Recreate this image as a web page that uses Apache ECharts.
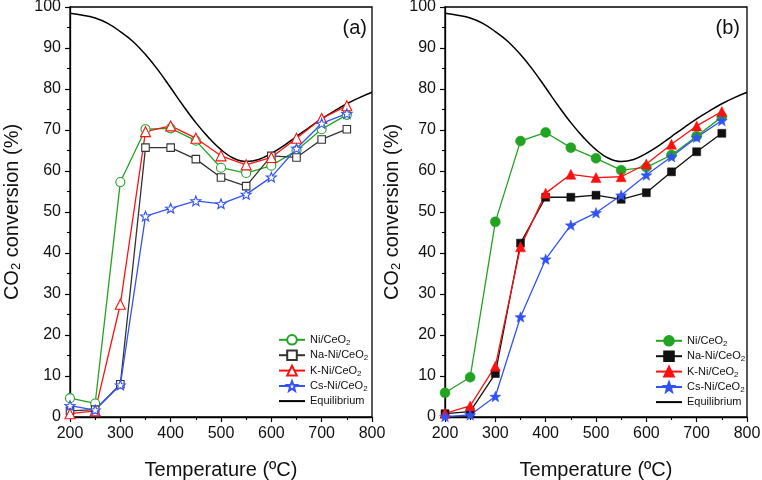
<!DOCTYPE html>
<html><head><meta charset="utf-8">
<script src="https://cdn.jsdelivr.net/npm/echarts@6/dist/echarts.min.js"></script>
<style>html,body{margin:0;padding:0;background:#fff}#c{width:762px;height:480px}</style>
</head><body><div id="c"></div>
<script>
// ---- data ----
const temps = [200, 250, 300, 350, 400, 450, 500, 550, 600, 650, 700, 750];
const seriesLabels = ['Ni/CeO2', 'Na-Ni/CeO2', 'K-Ni/CeO2', 'Cs-Ni/CeO2', 'Equilibrium'];
// panel (a)
const aNi = [4.6, 3.3, 57.3, 70.2, 70.4, 67.4, 60.8, 59.5, 61.3, 65.0, 70.2, 73.7];
const aNa = [1.5, 1.8, 8.0, 65.7, 65.7, 62.9, 58.4, 56.3, 63.7, 63.3, 67.7, 70.2];
const aK  = [0.8, 1.5, 27.5, 69.6, 71.0, 68.0, 63.7, 61.5, 63.3, 68.0, 72.8, 75.9];
const aCs = [2.8, 1.7, 7.8, 49.0, 50.9, 52.7, 52.0, 54.3, 58.5, 65.5, 71.6, 74.0];
// panel (b)
const bNi = [5.9, 9.7, 47.6, 67.3, 69.4, 65.7, 63.1, 60.2, 60.9, 63.9, 68.5, 73.2];
const bNa = [0.8, 1.3, 10.6, 42.4, 53.6, 53.6, 54.1, 53.1, 54.7, 59.8, 64.7, 69.2];
const bK  = [0.9, 2.7, 12.4, 41.5, 54.6, 59.2, 58.4, 58.6, 61.7, 66.5, 71.0, 74.5];
const bCs = [0.1, 0.5, 5.0, 24.4, 38.5, 46.8, 49.8, 54.1, 59.0, 63.5, 68.2, 72.3];
// equilibrium curve
const eqT = [200, 225, 250, 275, 300, 325, 350, 375, 400, 425, 450, 475, 500, 525, 550, 575, 600, 625, 650, 675, 700, 725, 750, 775, 800];
const eqV = [98.5, 98.0, 97.3, 96.0, 94.0, 91.6, 88.4, 84.6, 80.3, 75.9, 71.8, 68.2, 65.2, 63.1, 62.3, 62.8, 64.3, 66.2, 68.4, 70.6, 72.7, 74.6, 76.4, 77.9, 79.2];
const xTicks = [200, 300, 400, 500, 600, 700, 800];
const yTicks = [0, 10, 20, 30, 40, 50, 60, 70, 80, 90, 100];

// ---- styling ----
const FONT = 'Liberation Sans, Arial, sans-serif';
const GREEN = '#22a322', BLACK = '#111111', RED = '#ff1010', BLUE = '#3352f5';
const STAR = 'path://M50 0 L62.35 33 L97.55 34.55 L69.95 56.5 L79.4 90.45 L50 71 L20.6 90.45 L30.05 56.5 L2.45 34.55 L37.65 33 Z';

const pair = arr => temps.map((t, i) => [t, arr[i]]);

function mk(prefix, idx, arr, gi, color, symbol, size, hollow) {
  return {
    name: prefix + seriesLabels[idx],
    type: 'line',
    xAxisIndex: gi, yAxisIndex: gi,
    data: pair(arr),
    symbol: symbol,
    symbolSize: size,
    symbolKeepAspect: true,
    showAllSymbol: true,
    lineStyle: { color: color, width: 1.3 },
    itemStyle: hollow ? { color: '#ffffff', borderColor: color, borderWidth: 1.1 }
                      : { color: color, borderColor: color, borderWidth: 0.5 },
    emphasis: { disabled: true },
    z: 3
  };
}
function eq(prefix, gi) {
  return {
    name: prefix + seriesLabels[4], type: 'line', xAxisIndex: gi, yAxisIndex: gi,
    data: eqT.map((t, i) => [t, eqV[i]]), symbol: 'none', smooth: 0.4,
    lineStyle: { color: '#000', width: 1.5 }, itemStyle: { color: '#000' }, z: 2
  };
}

function xAx(gi) {
  return {
    type: 'value', gridIndex: gi, min: 200, max: 800, interval: 100,
    name: 'Temperature (ºC)', nameLocation: 'middle', nameGap: 43,
    nameTextStyle: { fontSize: 20, fontFamily: FONT, color: '#111' },
    axisLine: { lineStyle: { color: '#000', width: 1.3 } },
    axisTick: { length: 5, lineStyle: { color: '#000', width: 1.2 } },
    minorTick: { show: true, splitNumber: 2, length: 3, lineStyle: { color: '#000', width: 1.1 } },
    splitLine: { show: false },
    axisLabel: { fontSize: 16, fontFamily: FONT, color: '#111', margin: 9,
      formatter: v => xTicks.includes(v) ? String(v) : '' }
  };
}
function yAx(gi, gap) {
  return {
    type: 'value', gridIndex: gi, min: 0, max: 100, interval: 10,
    name: '{t|CO}{s|2}{t| conversion (%)}', nameLocation: 'middle', nameGap: gap, nameRotate: 90,
    nameTextStyle: { fontSize: 20, fontFamily: FONT, color: '#111',
      rich: { t: { fontSize: 20, fontFamily: FONT, color: '#111', lineHeight: 22 },
              s: { fontSize: 13, fontFamily: FONT, color: '#111', lineHeight: 8, verticalAlign: 'bottom' } } },
    axisLine: { lineStyle: { color: '#000', width: 1.3 } },
    axisTick: { length: 5, lineStyle: { color: '#000', width: 1.2 } },
    minorTick: { show: true, splitNumber: 2, length: 3, lineStyle: { color: '#000', width: 1.1 } },
    splitLine: { show: false },
    axisLabel: { fontSize: 16, fontFamily: FONT, color: '#111', margin: 9,
      formatter: v => yTicks.includes(v) ? String(v) : '' }
  };
}
function legendFmt(name) {
  const base = name.split(':')[1];
  if (base.endsWith('CeO2')) return '{t|' + base.slice(0, -1) + '}{s|2}';
  return '{t|' + base + '}';
}
function lg(prefix, left, top) {
  return {
    data: seriesLabels.map((l, i) => i === 4
      ? { name: prefix + l, itemStyle: { opacity: 0, color: 'rgba(0,0,0,0)', borderColor: 'rgba(0,0,0,0)', borderWidth: 0 } }
      : { name: prefix + l }),
    orient: 'vertical', left: left, top: top,
    itemWidth: 26, itemHeight: 12, itemGap: 2.6, padding: 0,
    selectedMode: false, formatter: legendFmt,
    textStyle: { fontSize: 11, fontFamily: FONT, color: '#111',
      rich: { t: { fontSize: 11, fontFamily: FONT, color: '#111', lineHeight: 14 },
              s: { fontSize: 8, fontFamily: FONT, color: '#111', lineHeight: 5, verticalAlign: 'bottom' } } }
  };
}

const option = {
  animation: false,
  backgroundColor: '#ffffff',
  grid: [
    { left: 70, top: 7, width: 302, height: 410, show: true, borderColor: '#000', borderWidth: 1.3, backgroundColor: 'transparent', outerBoundsMode: 'none', containLabel: false },
    { left: 445, top: 7, width: 302, height: 410, show: true, borderColor: '#000', borderWidth: 1.3, backgroundColor: 'transparent', outerBoundsMode: 'none', containLabel: false }
  ],
  xAxis: [xAx(0), xAx(1)],
  yAxis: [yAx(0, 47), yAx(1, 42)],
  legend: [lg('a:', 278, 334), lg('b:', 655, 335)],
  graphic: [
    { type: 'text', x: 367, y: 28, style: { text: '(a)', fontSize: 20, fontFamily: FONT, fill: '#111', align: 'right', verticalAlign: 'middle' } },
    { type: 'text', x: 740, y: 28, style: { text: '(b)', fontSize: 20, fontFamily: FONT, fill: '#111', align: 'right', verticalAlign: 'middle' } }
  ],
  series: [
    eq('a:', 0),
    mk('a:', 0, aNi, 0, GREEN, 'circle', 9, true),
    mk('a:', 1, aNa, 0, '#333333', 'rect', 7.5, true),
    mk('a:', 2, aK, 0, RED, 'triangle', 10, true),
    mk('a:', 3, aCs, 0, BLUE, STAR, 10, true),
    eq('b:', 1),
    mk('b:', 0, bNi, 1, GREEN, 'circle', 10, false),
    mk('b:', 1, bNa, 1, BLACK, 'rect', 8, false),
    mk('b:', 2, bK, 1, RED, 'triangle', 10, false),
    mk('b:', 3, bCs, 1, BLUE, STAR, 11, false)
  ]
};
const chart = echarts.init(document.getElementById('c'), null, { renderer: 'canvas' });
chart.setOption(option);
</script>
</body></html>
